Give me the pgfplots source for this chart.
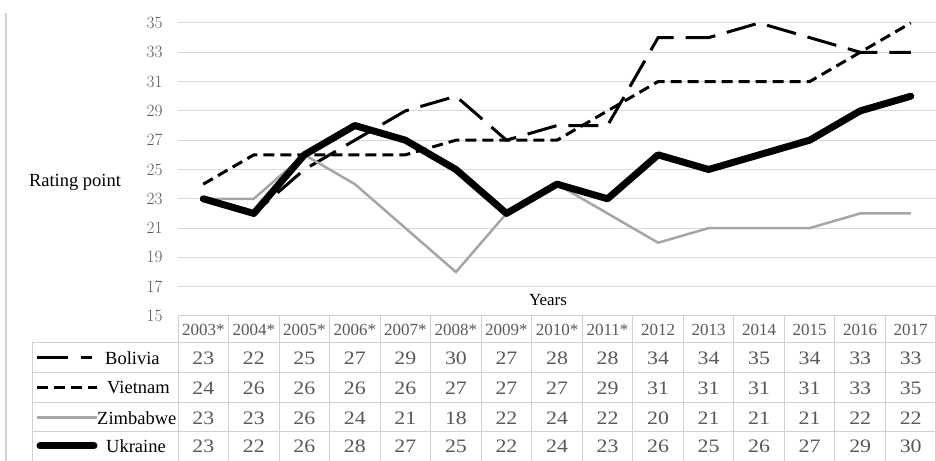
\documentclass[border=0pt]{standalone}
\usepackage{fontspec}
\setmainfont{Liberation Serif}
\newfontfamily\wide{Liberation Serif}[FakeStretch=1.15]
\usepackage{pgfplots}
\usepackage{pgfplotstable}
\pgfplotsset{compat=1.18}

\definecolor{txtgray}{HTML}{595959}
\definecolor{gridgray}{HTML}{D9D9D9}
\definecolor{zimgray}{HTML}{A6A6A6}
\definecolor{tblline}{HTML}{D0D0D0}

\newcommand{\ticksize}{\wide\fontsize{16bp}{18bp}\selectfont}
\newcommand{\numsize}{\wide\fontsize{19bp}{21bp}\selectfont}
\newcommand{\headsize}{\fontsize{17bp}{19bp}\selectfont}
\newcommand{\labsize}{\fontsize{18.5bp}{20bp}\selectfont}

% rating points by year (x = column index)
\pgfplotstableread{
idx Bolivia Vietnam Zimbabwe Ukraine
0   23 24 23 23
1   22 26 23 22
2   25 26 26 26
3   27 26 24 28
4   29 26 21 27
5   30 27 18 25
6   27 27 22 22
7   28 27 24 24
8   28 29 22 23
9   34 31 20 26
10  34 31 21 25
11  35 31 21 26
12  34 31 21 27
13  33 33 22 29
14  33 35 22 30
}\data

\begin{document}
\begin{tikzpicture}[x=1bp,y=1bp]
\useasboundingbox (0,0) rectangle (936,461);

% left frame line
\draw[gray!35, line width=1.5bp] (6,0) -- (6,448);

\begin{axis}[
  at={(178bp,145bp)}, anchor=south west,
  scale only axis,
  width=758bp, height=293bp,
  xmin=-0.5, xmax=14.5,
  ymin=15, ymax=35,
  axis line style={draw=none},
  xtick=\empty,
  ytick={15,17,...,35},
  ymajorgrids,
  grid style={gridgray, line width=1bp},
  tick style={draw=none},
  yticklabel style={font=\ticksize, text=txtgray, xshift=-12bp},
  clip=false,
]
\addplot[black, line width=3bp, dash pattern=on 30bp off 12bp] table[x=idx, y=Bolivia] {\data};
\addplot[black, line width=3bp, dash pattern=on 11bp off 6bp] table[x=idx, y=Vietnam] {\data};
\addplot[zimgray, line width=2.5bp] table[x=idx, y=Zimbabwe] {\data};
\addplot[black, line width=7bp, line join=round, line cap=round] table[x=idx, y=Ukraine] {\data};
\end{axis}

\node[font=\labsize] at (75,279) {Rating point};
\node[font=\headsize] at (548,161) {Years};

% data table grid
\draw[tblline, line width=1bp] (178,145) -- (936,145);
\foreach \yy in {118,88,58,29} {
  \draw[tblline, line width=1bp] (32,\yy) -- (936,\yy);
}
\draw[tblline, line width=1bp] (32,0) -- (32,118);
\foreach \k in {0,...,14} {
  \draw[tblline, line width=1bp] ({178+\k*50.53},0) -- ({178+\k*50.53},145);
}
\draw[tblline, line width=1bp] (935.5,0) -- (935.5,145);

% header row
\foreach \lab [count=\i from 0] in {2003*,2004*,2005*,2006*,2007*,2008*,2009*,2010*,2011*,2012,2013,2014,2015,2016,2017} {
  \node[font=\headsize, text=txtgray] at ({203.3+\i*50.53},131) {\lab};
}

% values
\foreach \ser/\yy in {Bolivia/103,Vietnam/73,Zimbabwe/43,Ukraine/15} {
  \foreach \k in {0,...,14} {
    \pgfplotstablegetelem{\k}{\ser}\of\data
    \node[font=\numsize, text=txtgray] at ({203.3+\k*50.53},\yy) {\pgfplotsretval};
  }
}

% legend keys
\draw[black, line width=3bp, dash pattern=on 31bp off 13bp] (37,103) -- (92,103);
\draw[black, line width=3bp, dash pattern=on 11bp off 6bp] (37,73) -- (97,73);
\draw[zimgray, line width=3bp] (37,43) -- (97,43);
\draw[black, line width=7bp, line cap=round] (40,15) -- (94,15);
\node[font=\labsize, anchor=west, inner sep=0] at (105,103) {Bolivia};
\node[font=\labsize, anchor=west, inner sep=0] at (107,73) {Vietnam};
\node[font=\labsize, anchor=west, inner sep=0] at (97,43) {Zimbabwe};
\node[font=\labsize, anchor=west, inner sep=0] at (106,15) {Ukraine};
\end{tikzpicture}
\end{document}
